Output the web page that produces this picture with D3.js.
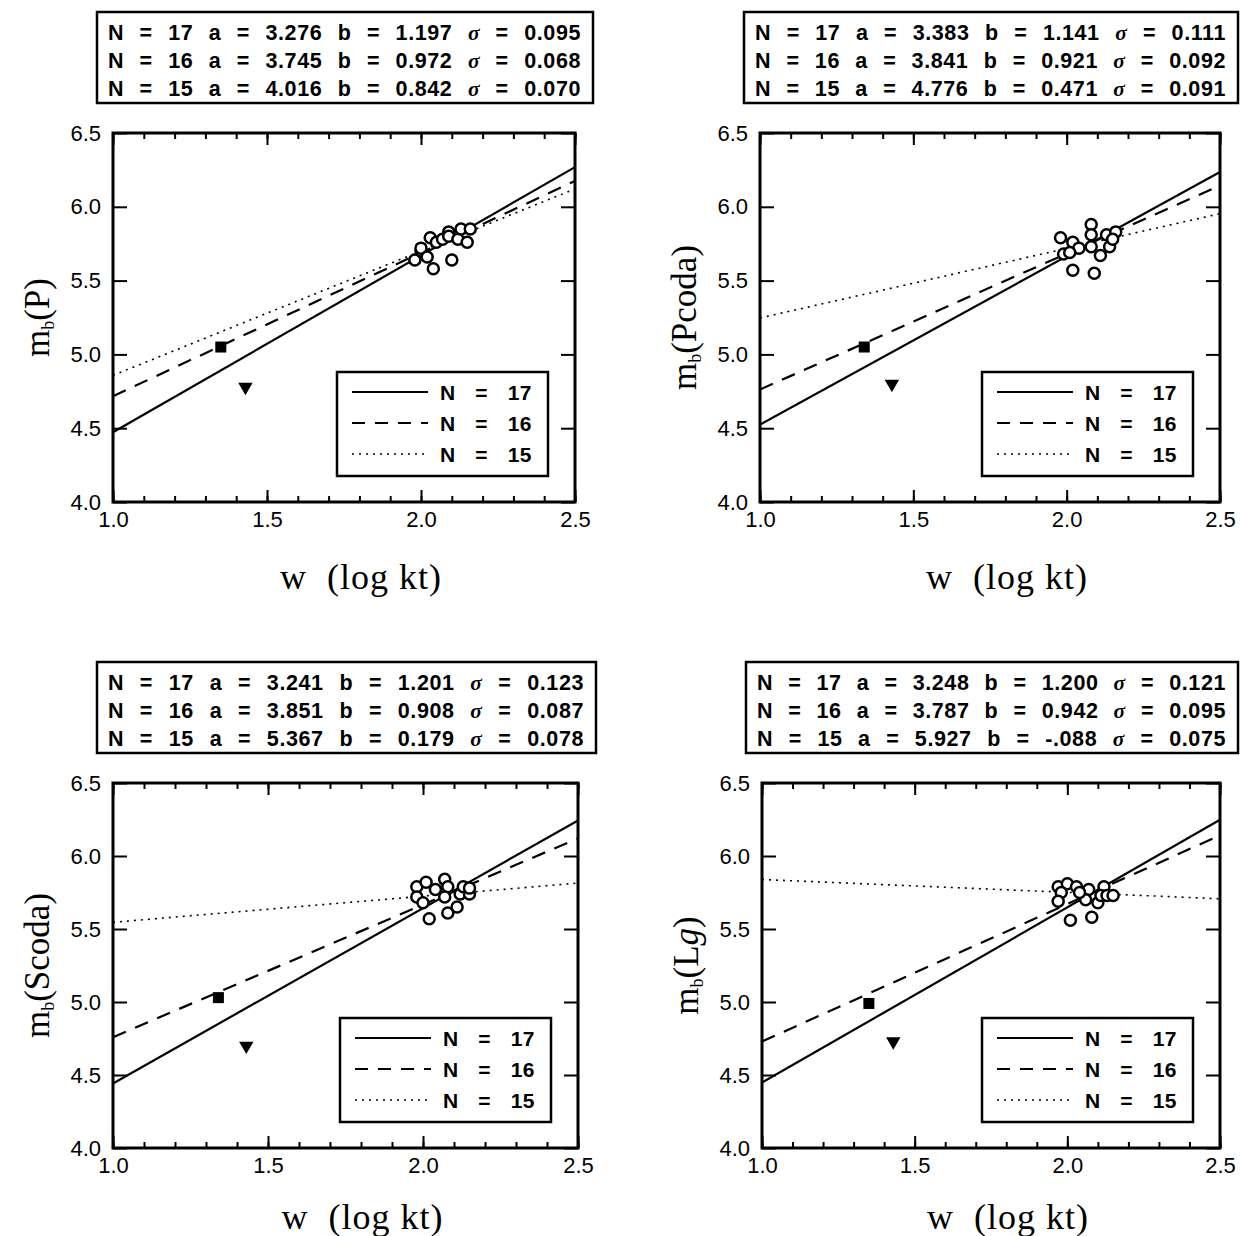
<!DOCTYPE html>
<html>
<head>
<meta charset="utf-8">
<script src="https://cdn.jsdelivr.net/npm/d3@7"></script>
<style>
  body { margin: 0; background: #fff; }
  svg { display: block; }
</style>
</head>
<body>
<svg id="svg"></svg>
<script>
// data
var phases = ["P", "Pcoda", "Scoda", "Lg"];
var nValues = [17, 16, 15];
var fitA = [[3.276, 3.745, 4.016], [3.383, 3.841, 4.776], [3.241, 3.851, 5.367], [3.248, 3.787, 5.927]];
var fitB = [[1.197, 0.972, 0.842], [1.141, 0.921, 0.471], [1.201, 0.908, 0.179], [1.200, 0.942, -0.088]];
var fitSigma = [[0.095, 0.068, 0.070], [0.111, 0.092, 0.091], [0.123, 0.087, 0.078], [0.121, 0.095, 0.075]];

var circW = [
  [1.98, 2.00, 2.00, 2.03, 2.05, 2.04, 2.07, 2.09, 2.09, 2.10, 2.12, 2.13, 2.15, 2.16, 2.02],
  [1.98, 2.02, 2.08, 2.08, 2.04, 2.08, 2.13, 2.16, 2.14, 2.11, 2.02, 2.09, 1.99, 2.01, 2.15],
  [1.98, 2.01, 2.04, 2.07, 2.08, 1.98, 2.00, 2.07, 2.12, 2.15, 2.02, 2.08, 2.11, 2.13, 2.15],
  [1.97, 2.00, 2.03, 2.07, 1.98, 1.97, 2.06, 2.10, 2.12, 2.11, 2.13, 2.15, 2.01, 2.08, 2.04]
];
var circM = [
  [5.64, 5.70, 5.72, 5.79, 5.76, 5.58, 5.78, 5.83, 5.80, 5.64, 5.78, 5.85, 5.76, 5.85, 5.66],
  [5.79, 5.76, 5.88, 5.81, 5.72, 5.73, 5.81, 5.83, 5.73, 5.67, 5.57, 5.55, 5.68, 5.69, 5.78],
  [5.79, 5.82, 5.77, 5.84, 5.79, 5.72, 5.68, 5.72, 5.74, 5.74, 5.57, 5.61, 5.65, 5.79, 5.78],
  [5.79, 5.81, 5.79, 5.77, 5.75, 5.69, 5.70, 5.68, 5.79, 5.73, 5.73, 5.73, 5.56, 5.58, 5.75]
];
var squareW = [1.35, 1.34, 1.34, 1.35];
var squareM = [5.05, 5.05, 5.03, 4.99];
var triW = [1.43, 1.43, 1.43, 1.43];
var triM = [4.78, 4.80, 4.70, 4.73];

var xTicks = [1.0, 1.5, 2.0, 2.5];
var yTicks = [4.0, 4.5, 5.0, 5.5, 6.0, 6.5];

//////////////////////////////////////////////////////////////////////////////

var width = 1240, height = 1236;
var svg = d3.select("#svg").attr("width", width).attr("height", height);

// plot frames for the four panels
var frames = [
  {x1: 113, x2: 575, y1: 133, y2: 502},
  {x1: 760, x2: 1220, y1: 133, y2: 502},
  {x1: 113, x2: 578, y1: 783, y2: 1148},
  {x1: 762, x2: 1220, y1: 783, y2: 1148}
];

var dashes = ["none", "14,10", "2,5"];
var lineWidths = [2.2, 2.2, 1.6];
var sansBold = "Liberation Sans, Arial, sans-serif";
var serif = "Liberation Serif, Times New Roman, serif";

function fmt(v, n) {
    var s = v.toFixed(n);
    if (v < 0) s = s.replace("-0.", "-.");
    return s;
}

// spread the words of a text out to a given width using word-spacing
function spreadWords(t, target, nSpaces) {
    var len = t.node().getComputedTextLength();
    t.attr("word-spacing", Math.max(0, (target - len) / nSpaces));
}

function drawPanel(p)
{
    var f = frames[p];
    var g = svg.append("g");

    var x = d3.scaleLinear().domain([1.0, 2.5]).range([f.x1, f.x2]);
    var y = d3.scaleLinear().domain([4.0, 6.5]).range([f.y2, f.y1]);

    // stats box on top
    var bx = f.x1 - 16, bw = (f.x2 - f.x1) + 34, by = f.y1 - 121, bh = 91;
    g.append("rect").attr("x", bx).attr("y", by).attr("width", bw).attr("height", bh)
        .attr("fill", "none").attr("stroke", "#000").attr("stroke-width", 2.5);
    for (var i = 0; i < 3; ++i) {
        var t = g.append("text")
            .attr("x", bx + 11).attr("y", by + 28 + i * 28)
            .attr("font-family", sansBold)
            .attr("font-weight", "bold").attr("font-size", 21.5)
            .attr("letter-spacing", 0.6);
        t.append("tspan").text("N = " + nValues[i] + " a = " + fmt(fitA[p][i], 3) +
                               " b = " + fmt(fitB[p][i], 3) + " ");
        t.append("tspan").attr("font-style", "italic").attr("font-family", serif).text("σ");
        t.append("tspan").text(" = " + fmt(fitSigma[p][i], 3));
        spreadWords(t, bw - 23, 11);
    }

    // minor / major ticks, inward on all four sides
    var minor = d3.range(10, 26).map(function(d) { return d / 10; });
    g.append("g").attr("transform", "translate(0," + f.y2 + ")")
        .call(d3.axisBottom(x).tickValues(minor).tickSizeInner(-6).tickSizeOuter(0).tickFormat(""));
    g.append("g").attr("transform", "translate(0," + f.y1 + ")")
        .call(d3.axisTop(x).tickValues(minor).tickSizeInner(-6).tickSizeOuter(0).tickFormat(""));
    g.append("g").attr("transform", "translate(0," + f.y2 + ")")
        .call(d3.axisBottom(x).tickValues(xTicks).tickSizeInner(-12).tickSizeOuter(0)
              .tickPadding(9).tickFormat(d3.format(".1f")));
    g.append("g").attr("transform", "translate(0," + f.y1 + ")")
        .call(d3.axisTop(x).tickValues(xTicks).tickSizeInner(-12).tickSizeOuter(0).tickFormat(""));
    g.append("g").attr("transform", "translate(" + f.x1 + ",0)")
        .call(d3.axisLeft(y).tickValues(yTicks).tickSizeInner(-14).tickSizeOuter(0)
              .tickPadding(12).tickFormat(d3.format(".1f")));
    g.append("g").attr("transform", "translate(" + f.x2 + ",0)")
        .call(d3.axisRight(y).tickValues(yTicks).tickSizeInner(-14).tickSizeOuter(0).tickFormat(""));

    g.selectAll(".domain").remove();
    g.selectAll(".tick line").attr("stroke", "#000").attr("stroke-width", 2);
    g.selectAll(".tick text").attr("font-family", sansBold)
        .attr("font-size", 22).attr("fill", "#000");

    g.append("rect").attr("x", f.x1).attr("y", f.y1)
        .attr("width", f.x2 - f.x1).attr("height", f.y2 - f.y1)
        .attr("fill", "none").attr("stroke", "#000").attr("stroke-width", 3);

    // regression lines
    for (i = 0; i < 3; ++i) {
        var a = fitA[p][i], b = fitB[p][i];
        g.append("line")
            .attr("x1", x(1.0)).attr("y1", y(a + b * 1.0))
            .attr("x2", x(2.5)).attr("y2", y(a + b * 2.5))
            .attr("stroke", "#000").attr("stroke-width", lineWidths[i])
            .attr("stroke-dasharray", dashes[i]);
    }

    // events
    var pts = circW[p].map(function(w, k) { return {w: w, m: circM[p][k]}; });
    g.selectAll("circle.ev").data(pts).enter().append("circle")
        .attr("class", "ev")
        .attr("cx", function(d) { return x(d.w); })
        .attr("cy", function(d) { return y(d.m); })
        .attr("r", 5.5)
        .attr("fill", "#fff").attr("stroke", "#000").attr("stroke-width", 2.5);

    g.append("rect")
        .attr("x", x(squareW[p]) - 5.5).attr("y", y(squareM[p]) - 5.5)
        .attr("width", 11).attr("height", 11).attr("fill", "#000");

    g.append("path")
        .attr("d", d3.symbol().type(d3.symbolTriangle).size(90))
        .attr("transform", "translate(" + x(triW[p]) + "," + y(triM[p]) + ") rotate(180)")
        .attr("fill", "#000");

    // legend
    var lx = f.x2 - 238, ly = f.y2 - 130;
    g.append("rect").attr("x", lx).attr("y", ly).attr("width", 211).attr("height", 104)
        .attr("fill", "#fff").attr("stroke", "#000").attr("stroke-width", 2.5);
    for (i = 0; i < 3; ++i) {
        var ry = ly + 20 + i * 31;
        g.append("line").attr("x1", lx + 15).attr("x2", lx + 91)
            .attr("y1", ry).attr("y2", ry)
            .attr("stroke", "#000").attr("stroke-width", i === 2 ? 1.4 : 2)
            .attr("stroke-dasharray", i === 1 ? "13,10" : dashes[i]);
        var lt = g.append("text").attr("x", lx + 103).attr("y", ry + 8)
            .attr("font-family", sansBold)
            .attr("font-weight", "bold").attr("font-size", 21)
            .attr("letter-spacing", 0.5)
            .text("N = " + nValues[i]);
        spreadWords(lt, 92, 2);
    }

    // axis titles
    g.append("text")
        .attr("x", (f.x1 + f.x2) / 2 + 17).attr("y", Math.min(f.y2 + 87, 1229))
        .attr("text-anchor", "middle")
        .attr("font-family", serif)
        .attr("font-size", 36).attr("letter-spacing", 1)
        .style("white-space", "pre")
        .text("w  (log kt)");

    var yl = g.append("text")
        .attr("transform", "translate(" + (f.x1 - 64) + "," + ((f.y1 + f.y2) / 2) + ") rotate(-90)")
        .attr("text-anchor", "middle")
        .attr("font-family", serif)
        .attr("font-size", 35);
    yl.append("tspan").text("m");
    yl.append("tspan").attr("font-size", 18).attr("dy", 5).text("b");
    yl.append("tspan").attr("dy", -5).text("(");
    if (phases[p] === "Lg") {
        yl.append("tspan").text("L");
        yl.append("tspan").attr("font-style", "italic").text("g");
    } else {
        yl.append("tspan").text(phases[p]);
    }
    yl.append("tspan").text(")");
}

for (var p = 0; p < 4; ++p) drawPanel(p);
</script>
</body>
</html>
